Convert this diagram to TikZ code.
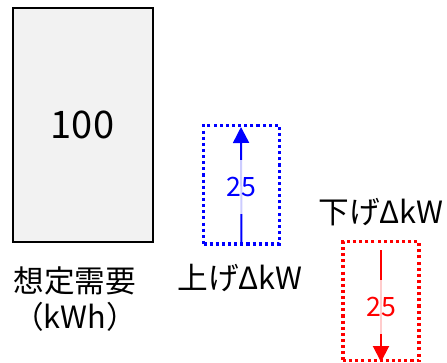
\documentclass[tikz,border=0pt]{standalone}
\usepackage{fontspec}
\setmainfont{Noto Sans CJK JP}
\usetikzlibrary{arrows.meta,positioning}
\definecolor{demgray}{RGB}{242,242,242}
\definecolor{upblue}{RGB}{0,0,255}
\definecolor{downred}{RGB}{255,0,0}
\begin{document}
\begin{tikzpicture}[x=0.75pt,y=-0.75pt,
  dotbox/.style={line width=2.5pt,dash pattern=on 2.3pt off 2.3pt,minimum width=57pt,minimum height=89pt,inner sep=0pt},
  valnum/.style={font=\fontsize{20}{22}\selectfont,fill=white,fill opacity=0.8,text opacity=1,inner sep=1pt,minimum height=40pt},
  lbl/.style={font=\fontsize{23}{27}\selectfont,align=center,inner sep=0pt},
  dkw/.style={line width=1.5pt,-{Triangle[width=12pt,length=12pt]}}]
  \useasboundingbox (0,0) rectangle (447,362);
  % demand box
  \node[draw,line width=1.5pt,fill=demgray,minimum width=105pt,minimum height=176pt,inner sep=0pt,font=\fontsize{28.5}{30}\selectfont] (demand) at (82.5,125) {100};
  \node[lbl] (demlbl) at (75,299) {想定需要\\（kWh）};
  % up dkW
  \node[dotbox,draw=upblue] (upbox) at (241.5,184.5) {};
  \coordinate (uptip) at (241,127);
  \draw[dkw,upblue] (upbox.south) -- (uptip);
  \node[valnum,text=upblue] (upval) at (241,187) {25};
  \node[lbl] (uplbl) at (240,278) {上げΔkW};
  % down dkW
  \node[dotbox,draw=downred] (downbox) at (381,301) {};
  \coordinate (downtail) at (381,250);
  \draw[dkw,downred] (downtail) -- (downbox.south);
  \node[valnum,text=downred] (downval) at (381,307) {25};
  \node[lbl] (downlbl) at (381,212) {下げΔkW};
\end{tikzpicture}
\end{document}
